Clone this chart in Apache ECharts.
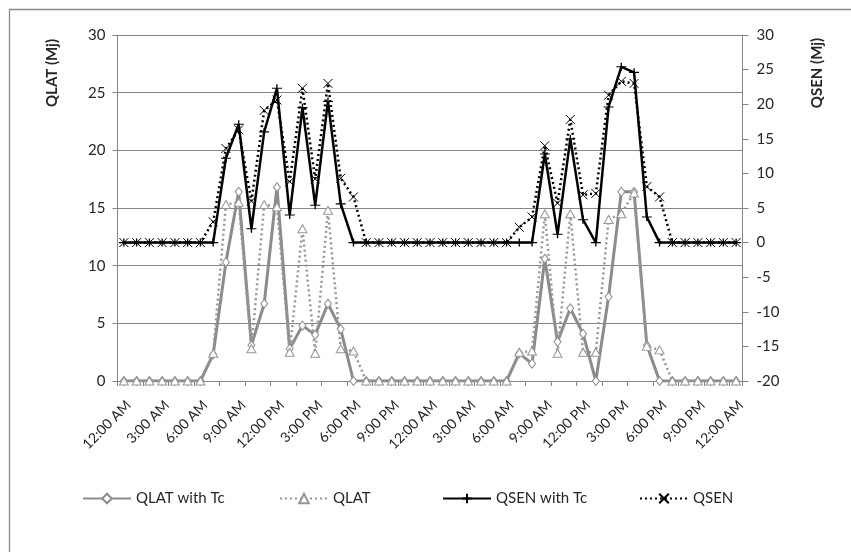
<!DOCTYPE html>
<html><head><meta charset="utf-8">
<script src="https://cdn.jsdelivr.net/npm/echarts@6/dist/echarts.min.js"></script>
<style>html,body{margin:0;padding:0;background:#fff;}#c{width:851px;height:552px;}</style>
</head><body><div id="c"></div>
<script>
const hourLabels = ["12:00 AM","1:00 AM","2:00 AM","3:00 AM","4:00 AM","5:00 AM","6:00 AM","7:00 AM","8:00 AM","9:00 AM","10:00 AM","11:00 AM",
  "12:00 PM","1:00 PM","2:00 PM","3:00 PM","4:00 PM","5:00 PM","6:00 PM","7:00 PM","8:00 PM","9:00 PM","10:00 PM","11:00 PM"];
const categories = hourLabels.concat(hourLabels).concat(["12:00 AM"]);
const qlatTc = [0,0,0,0,0,0,0,2.3,10.3,16.4,3.1,6.7,16.8,2.8,4.8,4.0,6.7,4.5,0,0,0,0,0,0,
  0,0,0,0,0,0,0,2.4,1.5,10.6,3.4,6.3,4.1,0,7.3,16.4,16.4,3.1,0,0,0,0,0,0,0];
const qlat = [0,0,0,0,0,0,0,2.4,15.3,15.5,2.8,15.3,15.1,2.5,13.2,2.4,14.8,2.8,2.6,0,0,0,0,0,
  0,0,0,0,0,0,0,2.5,2.6,14.5,2.4,14.5,2.5,2.5,14.0,14.5,16.3,3.0,2.7,0,0,0,0,0,0];
const qsenTc = [0,0,0,0,0,0,0,0,12.2,17.1,2.0,16.0,22.3,4.0,19.5,5.4,20.4,5.6,0,0,0,0,0,0,
  0,0,0,0,0,0,0,0,0,12.8,1.2,15.0,3.3,0,19.6,25.4,24.6,3.7,0,0,0,0,0,0,0];
const qsen = [0,0,0,0,0,0,0,3.0,13.6,16.3,6.0,19.1,20.6,8.8,22.3,9.2,23.0,9.3,6.6,0,0,0,0,0,
  0,0,0,0,0,0,0,2.2,3.7,14.0,5.7,17.8,6.9,7.1,21.3,23.3,23.0,8.1,6.6,0,0,0,0,0,0];
const seriesNames = ["QLAT with Tc","QLAT","QSEN with Tc","QSEN"];
const leftTitle = "QLAT (Mj)";
const rightTitle = "QSEN (Mj)";

const FONT = "Lato";
const txt = '#262626';
const axisGray = '#868686';
const plusPath = 'path://M0,5L10,5M5,1L5,9';
const crossPath = 'path://M0,0L10,10M10,0L0,10';

const chart = echarts.init(document.getElementById('c'), null, {renderer:'canvas'});
function legendAt(name, left){
  return {data:[name], left:left, top:486, itemWidth:48, itemHeight:12, itemGap:5,
    textStyle:{fontFamily:FONT, fontSize:15, color:txt}, selectedMode:false};
}
chart.setOption({
  animation:false,
  backgroundColor:'#fff',
  textStyle:{fontFamily:FONT},
  grid:{left:117.5, right:108.5, top:35, bottom:171, containLabel:false},
  legend:[legendAt(seriesNames[0],77),legendAt(seriesNames[1],274),legendAt(seriesNames[2],437),legendAt(seriesNames[3],634)],
  graphic:[
    {type:'rect', left:7, top:7, shape:{width:860, height:560}, style:{fill:'none', stroke:'#8a8a8a', lineWidth:1.3}, silent:true},
    {type:'text', x:52, y:73, rotation:Math.PI/2, style:{text:leftTitle, font:'bold 15px '+FONT, fill:txt, textAlign:'center', textVerticalAlign:'middle'}},
    {type:'text', x:817, y:73, rotation:Math.PI/2, style:{text:rightTitle, font:'bold 15px '+FONT, fill:txt, textAlign:'center', textVerticalAlign:'middle'}}
  ],
  xAxis:{type:'category', data:categories, boundaryGap:true,
    axisLine:{onZero:false, lineStyle:{color:axisGray, width:1}},
    axisTick:{show:true, interval:1, length:5, lineStyle:{color:axisGray}},
    axisLabel:{interval:2, rotate:45, margin:17, verticalAlign:'top', fontFamily:FONT, fontSize:14, color:txt},
    splitLine:{show:false}},
  yAxis:[
    {type:'value', min:0, max:30, interval:5, position:'left',
     axisLine:{show:true, lineStyle:{color:axisGray}},
     axisTick:{show:true, length:5, lineStyle:{color:axisGray}},
     axisLabel:{margin:12, fontFamily:FONT, fontSize:15, color:txt},
     splitLine:{show:true, lineStyle:{color:axisGray, width:1}}},
    {type:'value', min:-20, max:30, interval:5, position:'right',
     axisLine:{show:true, lineStyle:{color:axisGray}},
     axisTick:{show:true, length:6, lineStyle:{color:axisGray}},
     axisLabel:{margin:14, fontFamily:FONT, fontSize:15, color:txt},
     splitLine:{show:false}}
  ],
  series:[
    {name:seriesNames[0], type:'line', yAxisIndex:0, data:qlatTc, symbol:'diamond', symbolSize:[7,9], showAllSymbol:true,
     lineStyle:{color:'#8c8c8c', width:3}, itemStyle:{color:'#fff', borderColor:'#8c8c8c', borderWidth:1}, emphasis:{disabled:true}},
    {name:seriesNames[1], type:'line', yAxisIndex:0, data:qlat, symbol:'triangle', symbolSize:[9,8], showAllSymbol:true,
     lineStyle:{color:'#969696', width:2.5, type:[2,3]}, itemStyle:{color:'#fff', borderColor:'#969696', borderWidth:1}, emphasis:{disabled:true}},
    {name:seriesNames[2], type:'line', yAxisIndex:1, data:qsenTc, symbol:plusPath, symbolSize:[10,8], showAllSymbol:true,
     lineStyle:{color:'#000', width:2.5}, itemStyle:{color:'rgba(0,0,0,0)', borderColor:'#000', borderWidth:1.2}, emphasis:{disabled:true}},
    {name:seriesNames[3], type:'line', yAxisIndex:1, data:qsen, symbol:crossPath, symbolSize:9, showAllSymbol:true,
     lineStyle:{color:'#000', width:2.5, type:[2,3]}, itemStyle:{color:'rgba(0,0,0,0)', borderColor:'#000', borderWidth:1}, emphasis:{disabled:true}}
  ]
});
</script></body></html>
